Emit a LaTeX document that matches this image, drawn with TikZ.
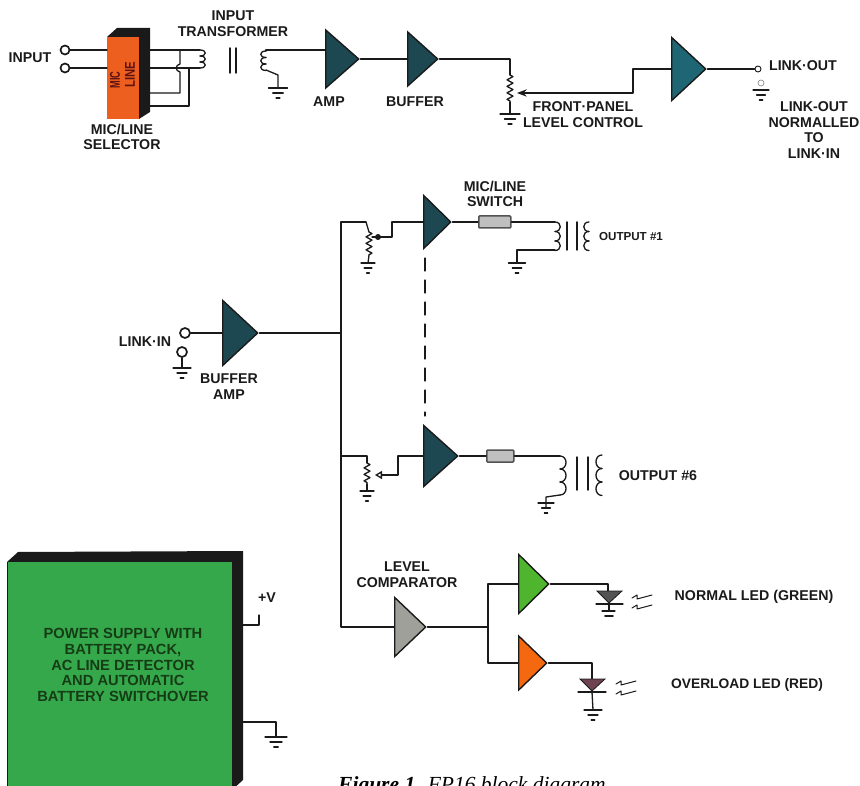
\documentclass[tikz,border=0pt]{standalone}
\usepackage{fontspec}
\setmainfont{Liberation Sans}
\newfontfamily\capfont{Liberation Serif}
\usetikzlibrary{calc,positioning,shapes.geometric,arrows.meta,decorations.pathmorphing}
\definecolor{ampteal}{HTML}{1D4852}
\definecolor{amplight}{HTML}{1F6674}
\definecolor{ampgrey}{HTML}{A0A09A}
\definecolor{ampgreen}{HTML}{50B52E}
\definecolor{amporange}{HTML}{F4690F}
\definecolor{boxorange}{HTML}{EC5F1E}
\definecolor{psugreen}{HTML}{35A84C}
\definecolor{ink}{HTML}{1A1A1A}
\tikzset{
  wire/.style={line width=1.3pt,draw=ink,line cap=round,line join=round},
  lbl/.style={font=\fontsize{14.2}{15.8}\selectfont\bfseries,align=center,inner sep=0pt,text=ink},
  amp/.style n args={2}{isosceles triangle,isosceles triangle stretches,shape border rotate=0,
    draw=ink,line width=1.4pt,inner sep=0pt,anchor=lower side,minimum height=#1pt,minimum width=#2pt},
  jack/.style={circle,draw=ink,line width=1.7pt,fill=white,inner sep=0pt,minimum size=#1pt},
  swbox/.style={draw=ink!75,line width=1.5pt,fill=gray!50,rounded corners=1pt,anchor=west,inner sep=0pt,minimum height=12pt},
  resist/.style={wire,decorate,decoration={zigzag,segment length=6.5pt,amplitude=3pt}},
  pics/gnd/.style={code={
    \draw[wire] (-#1,0) -- (#1,0);
    \draw[wire] ({-0.55*#1},5) -- ({0.55*#1},5);
    \draw[wire] ({-0.2*#1},10) -- ({0.2*#1},10);
  }},
  pics/vcoil/.style n args={3}{code={
    \foreach \i in {1,...,#1}
      \draw[wire] (0,{(\i-1)*#3}) .. controls (#2,{(\i-1)*#3}) and (#2,{\i*#3}) .. (0,{\i*#3});
  }},
  pics/ledray/.style={code={
    \draw[wire,line width=1pt] (0,0) -- (5,-3) -- (5,1) -- (20,-3);
  }},
}
\begin{document}
\begin{tikzpicture}[>=Stealth,x=1pt,y=-1pt]
\clip (0,0) rectangle (860,786);
\fill[white] (0,0) rectangle (860,786);
% mic/line selector block
\fill[ink] (107,37) -- (117,28) -- (150,28) -- (150,112) -- (139,119) -- cycle;
\fill[boxorange] (107,37) rectangle (139,119);
\node[lbl,rotate=90,text=ink!70!red] (miclbl) at (115,80) {\scalebox{0.65}[1]{MIC}};
\node[lbl,rotate=90,text=ink!70!red] (linelbl) at (130,75) {\scalebox{0.8}[1]{LINE}};
\node[lbl] (selectlbl) at (122,137) {MIC/LINE\\SELECTOR};
% input jacks
\node[lbl] (inlbl) at (30,58) {INPUT};
\node[jack=9] (inA) at (65,50) {};
\node[jack=9] (inB) at (65,68) {};
\coordinate (boxA) at (107,50);
\coordinate (boxB) at (107,68);
\draw[wire] (inA) -- (boxA);
\draw[wire] (inB) -- (boxB);
% selector wiring to primary
\draw[wire] (150,50) -- (200,50);
\draw[wire] (150,68) -- (200,68);
\draw[wire] (180,50) -- (180,64) .. controls (175,65) and (175,71) .. (180,72) -- (180,93) -- (150,93);
\draw[wire] (189,68) -- (189,106) -- (150,106);
\pic at (200,50) {vcoil={3}{7}{6}};
% input transformer
\draw[wire,line width=1.5pt] (230,48) -- (230,73);
\draw[wire,line width=1.5pt] (236,48) -- (236,73);
\pic at (266,51) {vcoil={3}{-7}{6.5}};
\node[lbl] (xfmrlbl) at (233,24) {INPUT\\TRANSFORMER};
\coordinate (secgnd) at (278,88);
\draw[wire] (266,70) -- (278,75) -- (secgnd);
\pic at (secgnd) {gnd=9.5};
% amp and buffer
\node[amp={33}{58},fill=ampteal] (ampmain) at (325,59) {};
\node[amp={30}{54},fill=ampteal] (ampbuf) at (407,59) {};
\node[lbl] (amplbl) at (329,102) {AMP};
\node[lbl] (buflbl) at (415,102) {BUFFER};
\draw[wire] (266,51) -- (266,50) -- (325,50);
\draw[wire] (ampmain.apex) -- (ampbuf.lower side);
% level control
\coordinate (potgnd) at (510,114);
\coordinate (wipeA) at (517,93);
\draw[wire] (ampbuf.apex) -- (510,59) -- (510,75);
\draw[resist] (510,75) -- (510,102);
\draw[wire] (510,102) -- (potgnd);
\pic at (potgnd) {gnd=10};
\node[lbl] (potlbl) at (583,115) {FRONT·PANEL\\LEVEL CONTROL};
% link-out driver
\node[amp={34}{63},fill=amplight] (amplink) at (671,69) {};
\node[jack=6,line width=0.9pt] (linkout) at (758,69) {};
\node[jack=6,line width=0.6pt,draw=gray] (linkgnd) at (761,83) {};
\draw[wire,->,line width=1.5pt] (amplink.lower side) -- (633,69) -- (633,93) -- (wipeA);
\draw[wire] (amplink.apex) -- (linkout);
\pic at (761,90) {gnd=8};
\node[lbl] (linkoutlbl) at (803,66) {LINK·OUT};
\node[lbl] (normlbl) at (814,130) {LINK-OUT\\NORMALLED\\TO\\LINK·IN};
% link-in buffer
\node[amp={35}{65},fill=ampteal] (ampin) at (222,333) {};
\node[jack=10] (linkin) at (185,333) {};
\node[jack=10] (lingnd) at (182,352) {};
\coordinate (lgnd) at (182,368);
\draw[wire] (linkin.east) -- (ampin.lower side);
\draw[wire] (lingnd) -- (lgnd);
\pic at (lgnd) {gnd=9};
\node[lbl] (linkinlbl) at (145,342) {LINK·IN};
\node[lbl] (bufamplbl) at (229,387) {BUFFER\\AMP};
\coordinate (busmid) at (341,333);
\draw[wire] (ampin.apex) -- (busmid);
% output bus
\coordinate (bustop) at (341,222);
\node[amp={31}{59},fill=ampgrey] (ampcmp) at (394,627) {};
\draw[wire] (366,222) -- (bustop) -- (341,627) -- (ampcmp.lower side);
% output 1 channel
\node[amp={27}{53},fill=ampteal] (ampone) at (423,222) {};
\node[swbox,minimum width=32pt] (swone) at (478,222) {};
\draw[wire] (366,222) -- (369,232);
\draw[resist] (369,232) -- (369,255);
\coordinate (onegnd) at (368,263);
\draw[wire] (369,255) -- (onegnd);
\pic at (onegnd) {gnd=7};
\fill[ink] (378,237) circle (3);
\draw[wire] (372,237) -- (392,237) -- (392,222) -- (ampone.lower side);
\draw[wire] (ampone.apex) -- (swone);
\draw[wire] (swone) -- (555,222);
\pic at (555,222) {vcoil={3}{7}{9.5}};
\coordinate (swgnd) at (517,263);
\draw[wire] (555,250) -- (517,250) -- (swgnd);
\pic at (swgnd) {gnd=8.5};
\draw[wire,line width=1.5pt] (567,222) -- (567,250);
\draw[wire,line width=1.5pt] (577,222) -- (577,250);
\pic at (589,222) {vcoil={3}{-7}{9.5}};
\node[lbl] (swlbl) at (495,194) {MIC/LINE\\SWITCH};
\node[lbl,font=\fontsize{11.6}{14}\selectfont\bfseries] (outone) at (631,237) {OUTPUT \#1};
% ganged pots
\draw[wire,dashed,dash pattern=on 13pt off 9pt] (425,258) -- (425,416);
% output 6 channel
\node[amp={34}{61},fill=ampteal] (ampsix) at (423,456) {};
\node[swbox,minimum width=27pt] (swsix) at (486,456) {};
\draw[wire] (341,456) -- (367,456) -- (367,463);
\draw[resist] (367,463) -- (367,484);
\coordinate (sixgnd) at (367,491);
\draw[wire] (367,484) -- (sixgnd);
\pic at (sixgnd) {gnd=7};
\draw[wire,-{Triangle[open,length=7pt,width=8pt]}] (ampsix.lower side) -- (398,456) -- (398,475) -- (375,475);
\draw[wire] (ampsix.apex) -- (swsix);
\draw[wire] (swsix) -- (560,456);
\pic at (560,456) {vcoil={3}{8}{13}};
\coordinate (sixwgnd) at (546,503);
\draw[wire] (560,495) -- (546,497) -- (546,508);
\pic at (sixwgnd) {gnd=8};
\draw[wire,line width=1.5pt] (577,457) -- (577,490);
\draw[wire,line width=1.5pt] (588,457) -- (588,490);
\pic at (602,455) {vcoil={3}{-8}{13.5}};
\node[lbl] (outsix) at (658,476) {OUTPUT \#6};
% level comparator and led drivers
\node[lbl] (cmplbl) at (407,575) {LEVEL\\COMPARATOR};
\node[amp={30}{59},fill=ampgreen] (ampnorm) at (518,584) {};
\node[amp={28}{54},fill=amporange] (ampover) at (518,663) {};
\coordinate (split) at (488,627);
\draw[wire] (ampcmp.apex) -- (split);
\draw[wire] (ampnorm.lower side) -- (488,584) -- (488,663) -- (ampover.lower side);
% normal led
\draw[wire] (ampnorm.apex) -- (608,584) -- (608,591);
\draw[fill=ink!75,draw=ink,line width=0.8pt] (597,591) -- (622,591) -- (609,603) -- cycle;
\draw[wire] (596,604) -- (623,604);
\draw[wire] (609,604) -- (609,611);
\draw[wire] (602,611) -- (615,611);
\draw[wire,line width=1.6pt] (605,616) -- (613,616);
\pic at (632,598) {ledray};
\pic at (632,608) {ledray};
\node[lbl] (normled) at (754,597) {NORMAL LED (GREEN)};
% overload led
\draw[wire] (ampover.apex) -- (592,663) -- (592,679);
\draw[fill=ink!70!purple!80,draw=ink,line width=0.8pt] (580,679) -- (605,679) -- (592,691) -- cycle;
\draw[wire] (578,692) -- (606,692);
\coordinate (ledgnd) at (593,710);
\draw[wire] (592,692) -- (ledgnd);
\pic at (ledgnd) {gnd=9};
\pic at (616,684) {ledray};
\pic at (616,694) {ledray};
\node[lbl,font=\fontsize{13.8}{15}\selectfont\bfseries] (overled) at (747,685) {OVERLOAD LED (RED)};
% power supply
\fill[ink] (7,562) -- (18,552) -- (243,551) -- (243,780) -- (232,790) -- (7,790) -- cycle;
\fill[psugreen] (8,562) rectangle (232,790);
\node[lbl,text=ink!85!green,font=\fontsize{14.7}{15.8}\selectfont\bfseries] (psulbl) at (123,665) {POWER SUPPLY WITH\\BATTERY PACK,\\AC LINE DETECTOR\\AND AUTOMATIC\\BATTERY SWITCHOVER};
\node[lbl] (vlbl) at (267,598) {+V};
\coordinate (psugnd) at (276,737);
\draw[wire] (243,625) -- (259,625) -- (259,615);
\draw[wire] (243,722) -- (276,722) -- (psugnd);
\pic at (psugnd) {gnd=11};
% caption, cut by the page edge
\node[anchor=base west,inner sep=0pt,font=\capfont\fontsize{21.5}{22}\selectfont\itshape] (figcap) at (338,791) {\textbf{Figure 1.} FP16 block diagram};
\end{tikzpicture}
\end{document}
